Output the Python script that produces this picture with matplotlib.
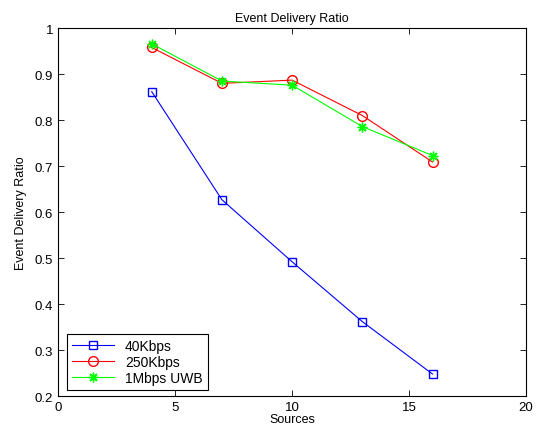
import matplotlib
matplotlib.use('Agg')
import matplotlib.pyplot as plt

# 数据
sources = [4, 7, 10, 13, 16]
ratio_40k = [0.862, 0.627, 0.492, 0.362, 0.248]
ratio_250k = [0.958, 0.880, 0.887, 0.810, 0.709]
ratio_uwb = [0.966, 0.885, 0.876, 0.786, 0.723]
labels = ['40Kbps', '250Kbps', '1Mbps UWB']

plt.rcParams['font.family'] = ['Liberation Sans', 'DejaVu Sans']
plt.rcParams['font.size'] = 9

fig = plt.figure(figsize=(5.38, 4.35), dpi=100)
ax = fig.add_axes([0.108, 0.087, 0.870, 0.846])

ax.plot(sources, ratio_40k, color='#0000ff', marker='s', mfc='none', ms=6, lw=0.8, label=labels[0])
ax.plot(sources, ratio_250k, color='#ff0000', marker='o', mfc='none', ms=7, lw=0.8, label=labels[1])
# 星号用八臂的 asterisk marker
ax.plot(sources, ratio_uwb, color='#00ff00', marker=(8, 2, 0), ms=7, mew=1.0, lw=0.8, label=labels[2])

ax.set_xlim(0, 20)
ax.set_ylim(0.2, 1)
ax.set_xticks([0, 5, 10, 15, 20])
ax.set_yticks([0.2, 0.3, 0.4, 0.5, 0.6, 0.7, 0.8, 0.9, 1])
ax.set_yticklabels(['0.2', '0.3', '0.4', '0.5', '0.6', '0.7', '0.8', '0.9', '1'])
ax.tick_params(direction='in', top=True, right=True, length=4, width=0.6, labelsize=9.5)
for s in ax.spines.values():
    s.set_linewidth(0.8)

ax.set_title('Event Delivery Ratio', fontsize=9, pad=5)
ax.set_xlabel('Sources', labelpad=0)
ax.set_ylabel('Event Delivery Ratio', labelpad=6)

leg = ax.legend(loc='lower left', bbox_to_anchor=(0.011, 0.006), fancybox=False,
                edgecolor='black', framealpha=1, borderaxespad=0.3, borderpad=0.35,
                handlelength=3.0, labelspacing=0.15, fontsize=10)
leg.get_frame().set_linewidth(0.8)

fig.savefig('out.png', dpi=100)
